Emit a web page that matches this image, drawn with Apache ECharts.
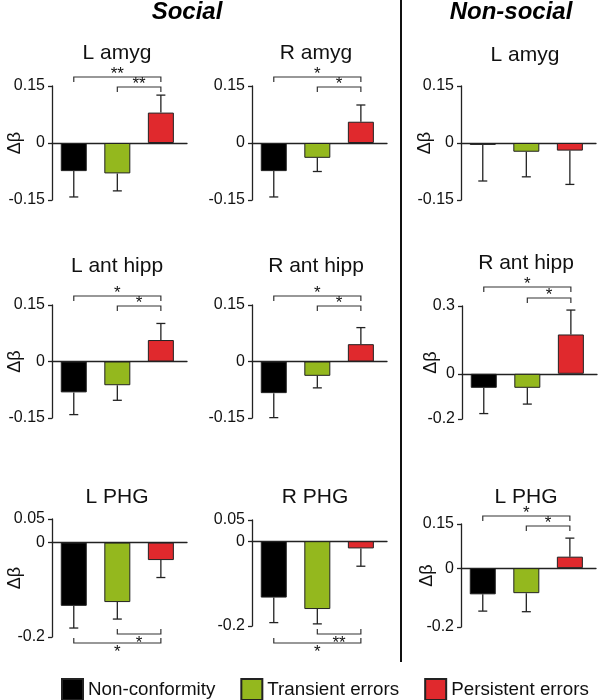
<!DOCTYPE html>
<html><head><meta charset="utf-8">
<script src="https://cdn.jsdelivr.net/npm/echarts@6/dist/echarts.min.js"></script>
<style>html,body{margin:0;padding:0;background:#fff}#c{width:600px;height:700px}</style>
</head><body><div id="c"></div>
<script>
// ---------- DATA ----------
const categories = ['Non-conformity', 'Transient errors', 'Persistent errors'];
const sectionTitles = ['Social', 'Non-social'];
const panelTitles = ['L amyg', 'R amyg', 'L amyg', 'L ant hipp', 'R ant hipp', 'R ant hipp', 'L PHG', 'R PHG', 'L PHG'];
const yLabel = 'Δβ';

// means (Δβ) per panel: [Non-conformity, Transient errors, Persistent errors]
const socialLAmyg      = [-0.074, -0.080, 0.080];
const socialRAmyg      = [-0.074, -0.039, 0.056];
const nonsocialLAmyg   = [-0.005, -0.023, -0.020];
const socialLAntHipp   = [-0.082, -0.063, 0.057];
const socialRAntHipp   = [-0.084, -0.038, 0.046];
const nonsocialRAntHipp= [-0.062, -0.062, 0.174];
const socialLPHG       = [-0.134, -0.126, -0.037];
const socialRPHG       = [-0.133, -0.160, -0.017];
const nonsocialLPHG    = [-0.089, -0.085, 0.039];

// standard errors (one-sided error bars, drawn away from zero)
const socialLAmygSem      = [0.068, 0.046, 0.046];
const socialRAmygSem      = [0.068, 0.036, 0.044];
const nonsocialLAmygSem   = [0.095, 0.066, 0.089];
const socialLAntHippSem   = [0.059, 0.040, 0.044];
const socialRAntHippSem   = [0.065, 0.032, 0.044];
const nonsocialRAntHippSem= [0.114, 0.072, 0.108];
const socialLPHGSem       = [0.047, 0.036, 0.037];
const socialRPHGSem       = [0.059, 0.035, 0.042];
const nonsocialLPHGSem    = [0.057, 0.063, 0.063];

// significance brackets: [from category, to category, label]
const sigSocialLAmyg       = [[0, 2, '**'], [1, 2, '**']];
const sigSocialRAmyg       = [[0, 2, '*'], [1, 2, '*']];
const sigNonsocialLAmyg    = [];
const sigSocialLAntHipp    = [[0, 2, '*'], [1, 2, '*']];
const sigSocialRAntHipp    = [[0, 2, '*'], [1, 2, '*']];
const sigNonsocialRAntHipp = [[0, 2, '*'], [1, 2, '*']];
const sigSocialLPHG        = [[0, 2, '*'], [1, 2, '*']];
const sigSocialRPHG        = [[0, 2, '*'], [1, 2, '**']];
const sigNonsocialLPHG     = [[0, 2, '*'], [1, 2, '*']];

// y-axis ranges and tick labels
const yRangeAmyg = [-0.15, 0.15];   const yTicksAmyg = [-0.15, 0, 0.15];
const yRangeRHippNS = [-0.2, 0.3];  const yTicksRHippNS = [-0.2, 0, 0.3];
const yRangePHG = [-0.2, 0.05];     const yTicksPHG = [-0.2, 0, 0.05];
const yRangePHGNS = [-0.2, 0.15];   const yTicksPHGNS = [-0.2, 0, 0.15];

const panels = [
  {title: panelTitles[0], means: socialLAmyg, sem: socialLAmygSem, sig: sigSocialLAmyg, range: yRangeAmyg, ticks: yTicksAmyg},
  {title: panelTitles[1], means: socialRAmyg, sem: socialRAmygSem, sig: sigSocialRAmyg, range: yRangeAmyg, ticks: yTicksAmyg},
  {title: panelTitles[2], means: nonsocialLAmyg, sem: nonsocialLAmygSem, sig: sigNonsocialLAmyg, range: yRangeAmyg, ticks: yTicksAmyg},
  {title: panelTitles[3], means: socialLAntHipp, sem: socialLAntHippSem, sig: sigSocialLAntHipp, range: yRangeAmyg, ticks: yTicksAmyg},
  {title: panelTitles[4], means: socialRAntHipp, sem: socialRAntHippSem, sig: sigSocialRAntHipp, range: yRangeAmyg, ticks: yTicksAmyg},
  {title: panelTitles[5], means: nonsocialRAntHipp, sem: nonsocialRAntHippSem, sig: sigNonsocialRAntHipp, range: yRangeRHippNS, ticks: yTicksRHippNS},
  {title: panelTitles[6], means: socialLPHG, sem: socialLPHGSem, sig: sigSocialLPHG, range: yRangePHG, ticks: yTicksPHG},
  {title: panelTitles[7], means: socialRPHG, sem: socialRPHGSem, sig: sigSocialRPHG, range: yRangePHG, ticks: yTicksPHG},
  {title: panelTitles[8], means: nonsocialLPHG, sem: nonsocialLPHGSem, sig: sigNonsocialLPHG, range: yRangePHGNS, ticks: yTicksPHGNS}
];

// ---------- LAYOUT / STYLE ----------
const FONT = '"Liberation Sans", Arial, Helvetica, sans-serif';
const catColors = ['#000000', '#94b81e', '#e0292d'];
const INK = '#222';
const layouts = [
  {left: 52,  top: 86,  height: 114, tx: 117, ty: 53,  gap: 28, name: true,  by: [77, 87],   side: 'top'},
  {left: 252, top: 86,  height: 114, tx: 316, ty: 53,  gap: 28, name: false, by: [77, 87],   side: 'top'},
  {left: 461, top: 86,  height: 114, tx: 525, ty: 55,  gap: 27, name: true,  by: [],         side: 'top'},
  {left: 52,  top: 305, height: 113, tx: 117, ty: 266, gap: 28, name: true,  by: [296, 306], side: 'top'},
  {left: 252, top: 305, height: 113, tx: 316, ty: 266, gap: 28, name: false, by: [296, 306], side: 'top'},
  {left: 462, top: 306, height: 113, tx: 526, ty: 263, gap: 22, name: true,  by: [287, 298], side: 'top'},
  {left: 52,  top: 519, height: 118, tx: 117, ty: 497, gap: 28, name: true,  by: [643, 634], side: 'bottom'},
  {left: 252, top: 520, height: 106, tx: 315, ty: 497, gap: 28, name: false, by: [643, 634], side: 'bottom'},
  {left: 461, top: 524, height: 103, tx: 526, ty: 497, gap: 25, name: true,  by: [516, 526], side: 'top'}
];

const grids = [], xAxes = [], yAxes = [], series = [];
const graphics = [];

panels.forEach((p, i) => {
  const L = layouts[i];
  grids.push({left: L.left, top: L.top, width: 135, height: L.height, containLabel: false, outerBoundsMode: 'none'});
  xAxes.push({
    type: 'value', gridIndex: i, min: -0.5, max: 2.6,
    axisLine: {show: true, onZero: true, lineStyle: {color: INK, width: 1.3}},
    axisTick: {show: false}, axisLabel: {show: false}, splitLine: {show: false}
  });
  yAxes.push({
    type: 'value', gridIndex: i, min: p.range[0], max: p.range[1],
    name: L.name ? yLabel : '', nameLocation: 'middle', nameRotate: 90, nameGap: L.gap,
    nameMoveOverlap: false,
    nameTextStyle: {fontSize: 18, color: '#111', fontFamily: FONT},
    axisLine: {show: true, onZero: false, lineStyle: {color: INK, width: 1.3}},
    axisTick: {show: true, length: 4, customValues: p.ticks, lineStyle: {color: INK, width: 1.3}},
    axisLabel: {customValues: p.ticks, fontSize: 16, color: '#111', fontFamily: FONT, margin: 7},
    splitLine: {show: false}
  });
  categories.forEach((c, k) => {
    series.push({
      type: 'bar', name: c, xAxisIndex: i, yAxisIndex: i,
      data: [[k, p.means[k]]], barWidth: 26, barGap: '-100%',
      itemStyle: {color: catColors[k], borderColor: INK, borderWidth: 1},
      silent: true, z: 2
    });
  });
  // error bars
  series.push({
    type: 'custom', xAxisIndex: i, yAxisIndex: i, silent: true, z: 3, clip: false,
    data: p.means.map((m, k) => [k, m]),
    renderItem: (params, api) => {
      const k = params.dataIndex;
      const m = p.means[k], s = p.sem[k];
      const end = m >= 0 ? m + s : m - s;
      const a = api.coord([k, m]), b = api.coord([k, end]);
      return {type: 'group', children: [
        {type: 'line', shape: {x1: a[0], y1: a[1], x2: b[0], y2: b[1]}, style: {stroke: INK, lineWidth: 1.3}},
        {type: 'line', shape: {x1: b[0] - 4.5, y1: b[1], x2: b[0] + 4.5, y2: b[1]}, style: {stroke: INK, lineWidth: 1.3}}
      ]};
    }
  });
  // significance brackets
  if (p.sig.length) {
    series.push({
      type: 'custom', xAxisIndex: i, yAxisIndex: i, silent: true, z: 4, clip: false,
      data: p.sig.map(s => [s[0], 0]),
      renderItem: (params, api) => {
        const s = p.sig[params.dataIndex];
        const x1 = api.coord([s[0], 0])[0], x2 = api.coord([s[1], 0])[0];
        const y = L.by[params.dataIndex];
        const d = L.side === 'top' ? 5 : -5;
        const ty = L.side === 'top' ? y - 2.5 : y + 9.5;
        return {type: 'group', children: [
          {type: 'polyline', shape: {points: [[x1, y + d], [x1, y], [x2, y], [x2, y + d]]}, style: {stroke: '#333', lineWidth: 1.2, fill: null}},
          {type: 'text', style: {x: (x1 + x2) / 2, y: ty, text: s[2], fill: '#111', font: '17px ' + FONT, align: 'center', verticalAlign: 'middle'}}
        ]};
      }
    });
  }
  graphics.push({type: 'text', x: L.tx, y: L.ty, style: {text: p.title, fill: '#111', font: '21px ' + FONT, align: 'center', verticalAlign: 'middle'}});
});

graphics.push({type: 'text', x: 187, y: 12, style: {text: sectionTitles[0], fill: '#000', font: 'italic bold 24px ' + FONT, align: 'center', verticalAlign: 'middle'}});
graphics.push({type: 'text', x: 511, y: 12, style: {text: sectionTitles[1], fill: '#000', font: 'italic bold 24px ' + FONT, align: 'center', verticalAlign: 'middle'}});
graphics.push({type: 'line', shape: {x1: 401, y1: 0, x2: 401, y2: 662}, style: {stroke: '#111', lineWidth: 2}});

const chart = echarts.init(document.getElementById('c'), null, {renderer: 'canvas'});
chart.setOption({
  animation: false,
  backgroundColor: '#fff',
  grid: grids, xAxis: xAxes, yAxis: yAxes, series: series,
  graphic: graphics,
  legend: {
    data: categories, left: 56, top: 673, itemWidth: 21, itemHeight: 21, itemGap: 25, icon: 'rect',
    selectedMode: false,
    textStyle: {fontSize: 18.8, color: '#111', fontFamily: FONT}
  }
});
</script></body></html>
